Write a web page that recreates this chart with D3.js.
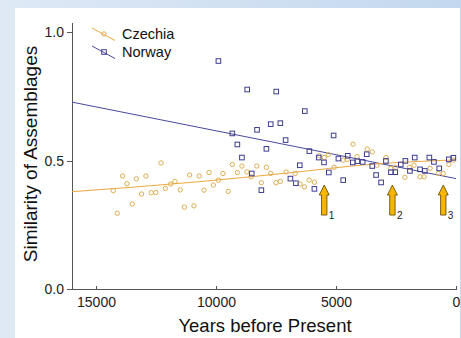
<!DOCTYPE html>
<html lang="en">
<head>
  <meta charset="UTF-8">
  <title>Similarity of Assemblages</title>
  <style>
    body { margin: 0; overflow: hidden; background: #fff; }
    svg { display: block; font-family: "Liberation Sans", Arial, sans-serif; }
    .axis path, .axis line { stroke: #555; stroke-width: 1; shape-rendering: crispEdges; }
    .axis text { fill: #222; font-size: 14px; }
    .cz-dot { fill: none; stroke: #dfae55; stroke-width: 1; }
    .no-dot { fill: none; stroke: #3d3d8f; stroke-width: 1; }
  </style>
  <script src="https://d3js.org/d3.v7.min.js"></script>
</head>
<body>
  <svg width="461" height="338">
    <defs>
      <linearGradient id="bg" x1="0" x2="1" y1="0" y2="0">
        <stop offset="0" stop-color="#dfe9f6"/>
        <stop offset="1" stop-color="#c3d8ee"/>
      </linearGradient>
    </defs>
  </svg>
  <script>
    const width = 461;
    const height = 338;

    // Czechia samples (years BP, similarity)
    const czYears = [14280, 14113, 13890, 13710, 13490, 13320, 13100, 12920, 12700, 12510,
      12290, 12110, 11890, 11710, 11490, 11320, 11100, 10920, 10700, 10500,
      10290, 10110, 9900, 9710, 9490, 9320, 9110, 8920, 8710, 8540,
      8300, 8110, 7900, 7720, 7500, 7320, 7080, 6700, 6500, 6320,
      6120, 5900, 5700, 5490, 5320, 5080, 4700, 4530, 4290, 4120,
      3700, 3490, 3300, 2920, 2720, 2510, 2130, 1940, 1750, 1500,
      1330, 1080, 740, 530, 300, 110];
    const czVals = [0.383, 0.295, 0.44, 0.41, 0.331, 0.429, 0.37, 0.44, 0.375, 0.376,
      0.491, 0.392, 0.409, 0.419, 0.386, 0.319, 0.444, 0.324, 0.44, 0.385,
      0.454, 0.405, 0.424, 0.45, 0.38, 0.485, 0.454, 0.479, 0.456, 0.437,
      0.479, 0.414, 0.474, 0.45, 0.414, 0.419, 0.456, 0.45, 0.409, 0.398,
      0.424, 0.416, 0.519, 0.512, 0.524, 0.474, 0.502, 0.505, 0.564, 0.516,
      0.545, 0.534, 0.482, 0.512, 0.47, 0.474, 0.435, 0.474, 0.482, 0.437,
      0.437, 0.47, 0.45, 0.45, 0.485, 0.502];

    // Norway samples
    const noYears = [9900, 9320, 9110, 8920, 8700, 8510, 8290, 8110, 7900, 7720,
      7490, 7320, 7100, 6900, 6670, 6510, 6300, 6110, 5900, 5720,
      5500, 5300, 5100, 4900, 4700, 4510, 4300, 4110, 3890, 3720,
      3490, 3330, 3120, 2920, 2710, 2530, 2300, 2110, 1920, 1720,
      1500, 1300, 1110, 920, 700, 300, 110];
    const noVals = [0.888, 0.606, 0.563, 0.512, 0.777, 0.45, 0.62, 0.385, 0.546, 0.642,
      0.769, 0.646, 0.58, 0.43, 0.412, 0.482, 0.693, 0.537, 0.39, 0.512,
      0.493, 0.454, 0.598, 0.508, 0.424, 0.519, 0.493, 0.498, 0.495, 0.525,
      0.479, 0.444, 0.415, 0.499, 0.455, 0.455, 0.485, 0.499, 0.46, 0.512,
      0.466, 0.46, 0.512, 0.495, 0.47, 0.505, 0.511];

    // fitted trend lines
    const czFitYears = [16000, 10700, 7100, 3500, 0];
    const czFitVals = [0.379, 0.418, 0.451, 0.486, 0.503];
    const noFitYears = [16000, 0];
    const noFitVals = [0.728, 0.43];

    const xTicks = [15000, 10000, 5000, 0];
    const yTicks = [0, 0.5, 1.0];

    const arrowYears = [5490, 2650, 530];
    const arrowLabels = ["1", "2", "3"];
    const arrowTop = 0.405, arrowBottom = 0.288;

    const legendNames = ["Czechia", "Norway"];

    const svg = d3.select("svg");

    // page background and white panel
    svg.append("rect").attr("width", width).attr("height", height).attr("fill", "url(#bg)");
    svg.append("rect").attr("x", 15).attr("y", 8).attr("width", 445).attr("height", 330).attr("fill", "#fff");

    const x = d3.scaleLinear().domain([16000, 0]).range([72, 456]);
    const y = d3.scaleLinear().domain([0, 1.04]).range([289, 22]);

    // axes
    svg.append("g")
      .attr("class", "axis")
      .attr("transform", "translate(0,289)")
      .call(d3.axisBottom(x).tickValues(xTicks).tickFormat(d3.format("d")).tickSizeInner(-3).tickSizeOuter(0).tickPadding(8));

    svg.append("g")
      .attr("class", "axis")
      .attr("transform", "translate(72,0)")
      .call(d3.axisLeft(y).tickValues(yTicks).tickFormat(d3.format(".1f")).tickSizeInner(5).tickSizeOuter(0).tickPadding(3));

    // axis titles
    svg.append("text")
      .attr("x", 265).attr("y", 332)
      .attr("text-anchor", "middle")
      .attr("font-size", 18.5)
      .attr("fill", "#111")
      .text("Years before Present");

    svg.append("text")
      .attr("transform", "translate(37,154) rotate(-90)")
      .attr("text-anchor", "middle")
      .attr("font-size", 19)
      .attr("fill", "#111")
      .text("Similarity of Assemblages");

    // trend lines
    const line = d3.line().x(d => x(d[0])).y(d => y(d[1]));
    const czFit = czFitYears.map((d, i) => [d, czFitVals[i]]);
    const noFit = noFitYears.map((d, i) => [d, noFitVals[i]]);

    svg.append("path")
      .datum(noFit)
      .attr("fill", "none")
      .attr("stroke", "#4a4a9c")
      .attr("stroke-width", 1)
      .attr("d", line);

    svg.append("path")
      .datum(czFit)
      .attr("fill", "none")
      .attr("stroke", "#eaa93c")
      .attr("stroke-width", 1)
      .attr("d", line.curve(d3.curveMonotoneX));

    // points
    const cz = czYears.map((d, i) => [d, czVals[i]]);
    const no = noYears.map((d, i) => [d, noVals[i]]);

    svg.append("g")
      .selectAll("circle")
      .data(cz)
      .join("circle")
      .attr("class", "cz-dot")
      .attr("cx", d => x(d[0]))
      .attr("cy", d => y(d[1]))
      .attr("r", 2.2);

    svg.append("g")
      .selectAll("rect")
      .data(no)
      .join("rect")
      .attr("class", "no-dot")
      .attr("x", d => x(d[0]) - 2.3)
      .attr("y", d => y(d[1]) - 2.3)
      .attr("width", 4.6)
      .attr("height", 4.6);

    // arrows
    const arrows = svg.append("g");
    arrowYears.forEach((yr, i) => {
      const cx = x(yr);
      const t = y(arrowTop), b = y(arrowBottom);
      const pts = [
        [cx, t], [cx + 5, t + 10], [cx + 2.7, t + 10], [cx + 2.7, b],
        [cx - 2.7, b], [cx - 2.7, t + 10], [cx - 5, t + 10]
      ];
      arrows.append("polygon")
        .attr("points", pts.map(p => p.join(",")).join(" "))
        .attr("fill", "#f7b500")
        .attr("stroke", "#5a4400")
        .attr("stroke-width", 0.8);
      arrows.append("text")
        .attr("x", cx + 4.5)
        .attr("y", b + 4)
        .attr("font-size", 10)
        .attr("fill", "#222")
        .text(arrowLabels[i]);
    });

    // legend
    const legend = svg.append("g");
    legendNames.forEach((name, i) => {
      const ly = 34 + i * 18;
      legend.append("line")
        .attr("x1", 92).attr("y1", ly - 6)
        .attr("x2", 115).attr("y2", ly + 6.5)
        .attr("stroke", i === 0 ? "#eaa93c" : "#4a4a9c")
        .attr("stroke-width", 1);
      if (i === 0) {
        legend.append("circle").attr("class", "cz-dot").attr("cx", 104).attr("cy", ly).attr("r", 2.2).attr("fill", "#fff");
      } else {
        legend.append("rect").attr("class", "no-dot").attr("x", 101.7).attr("y", ly - 2.3)
          .attr("width", 4.6).attr("height", 4.6).attr("fill", "#fff");
      }
      legend.append("text")
        .attr("x", 122).attr("y", ly + 5)
        .attr("font-size", 14.5)
        .attr("fill", "#111")
        .text(name);
    });
  </script>
</body>
</html>
